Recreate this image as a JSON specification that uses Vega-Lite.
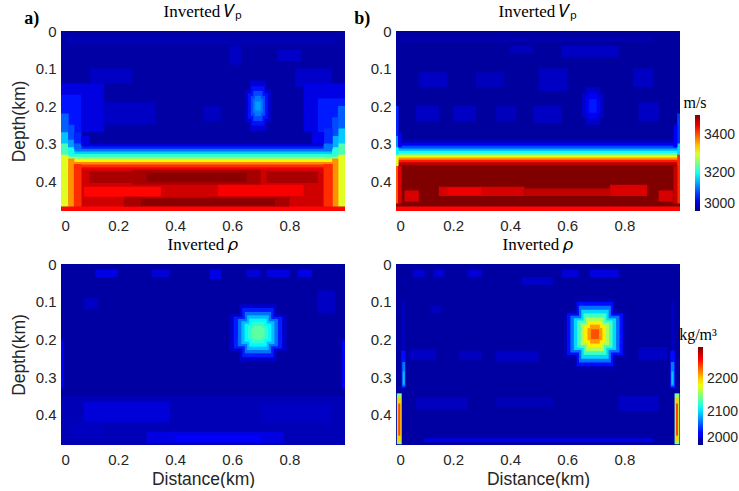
{
  "$schema": "https://vega.github.io/schema/vega-lite/v6.json",
  "background": "white",
  "padding": {"left": 10, "top": 3, "right": 0, "bottom": 0},
  "spacing": 9,
  "config": {
    "view": {"stroke": null},
    "title": {"font": "Liberation Serif", "fontSize": 17, "fontWeight": "normal", "color": "#000000", "offset": 3},
    "axis": {"labelFont": "Liberation Sans", "labelFontSize": 15, "labelColor": "#262626", "titleFont": "Liberation Sans", "titleFontSize": 17.5, "titleFontWeight": "normal", "titleColor": "#262626", "ticks": false, "domain": false, "grid": false},
    "axisX": {"labelPadding": 7, "titlePadding": 3},
    "axisY": {"labelPadding": 5, "titlePadding": 7}
  },
  "resolve": {"scale": {"color": "independent"}, "legend": {"color": "independent"}},
  "datasets": {
    "a": [
      {"x":0,"x2":0.995,"y":0,"y2":0.302,"v":3018},
      {"x":0,"x2":0.995,"y":0.3,"y2":0.309,"v":3040},
      {"x":0,"x2":0.995,"y":0.307,"y2":0.316,"v":3075},
      {"x":0,"x2":0.995,"y":0.314,"y2":0.323,"v":3120},
      {"x":0,"x2":0.995,"y":0.321,"y2":0.33,"v":3165},
      {"x":0,"x2":0.995,"y":0.328,"y2":0.337,"v":3210},
      {"x":0,"x2":0.995,"y":0.335,"y2":0.344,"v":3265},
      {"x":0,"x2":0.995,"y":0.342,"y2":0.351,"v":3320},
      {"x":0,"x2":0.995,"y":0.349,"y2":0.358,"v":3375},
      {"x":0,"x2":0.995,"y":0.356,"y2":0.365,"v":3420},
      {"x":0,"x2":0.995,"y":0.363,"y2":0.372,"v":3450},
      {"x":0,"x2":0.995,"y":0.37,"y2":0.47,"v":3465},
      {"x":0,"x2":0.995,"y":0.468,"y2":0.48,"v":3440},
      {"x":0.02,"x2":0.97,"y":0.015,"y2":0.035,"v":3026},
      {"x":0.59,"x2":0.63,"y":0.04,"y2":0.09,"v":3034},
      {"x":0.76,"x2":0.84,"y":0.05,"y2":0.08,"v":3036},
      {"x":0.1,"x2":0.25,"y":0.1,"y2":0.14,"v":3034},
      {"x":0.82,"x2":0.95,"y":0.1,"y2":0.15,"v":3036},
      {"x":0.15,"x2":0.33,"y":0.19,"y2":0.25,"v":3034},
      {"x":0.5,"x2":0.56,"y":0.2,"y2":0.24,"v":3032},
      {"x":0,"x2":0.15,"y":0.14,"y2":0.27,"v":3048},
      {"x":0.85,"x2":0.995,"y":0.14,"y2":0.27,"v":3050},
      {"x":0,"x2":0.07,"y":0.17,"y2":0.27,"v":3072},
      {"x":0.9,"x2":0.995,"y":0.18,"y2":0.27,"v":3076},
      {"x":0.1,"x2":0.25,"y":0.375,"y2":0.405,"v":3485},
      {"x":0.25,"x2":0.7,"y":0.37,"y2":0.41,"v":3485},
      {"x":0.3,"x2":0.65,"y":0.378,"y2":0.402,"v":3500},
      {"x":0.72,"x2":0.9,"y":0.375,"y2":0.405,"v":3485},
      {"x":0.08,"x2":0.35,"y":0.415,"y2":0.442,"v":3440},
      {"x":0.55,"x2":0.85,"y":0.41,"y2":0.44,"v":3445},
      {"x":0.22,"x2":0.8,"y":0.442,"y2":0.468,"v":3485},
      {"x":0.28,"x2":0.75,"y":0.447,"y2":0.465,"v":3500},
      {"x":0,"x2":0.027,"y":0.22,"y2":0.272,"v":3110},
      {"x":0,"x2":0.027,"y":0.27,"y2":0.302,"v":3160},
      {"x":0,"x2":0.027,"y":0.3,"y2":0.332,"v":3225},
      {"x":0,"x2":0.027,"y":0.33,"y2":0.468,"v":3300},
      {"x":0.025,"x2":0.047,"y":0.25,"y2":0.292,"v":3100},
      {"x":0.025,"x2":0.047,"y":0.29,"y2":0.312,"v":3140},
      {"x":0.025,"x2":0.047,"y":0.31,"y2":0.332,"v":3200},
      {"x":0.025,"x2":0.047,"y":0.34,"y2":0.468,"v":3370},
      {"x":0.045,"x2":0.072,"y":0.27,"y2":0.302,"v":3080},
      {"x":0.045,"x2":0.072,"y":0.3,"y2":0.315,"v":3110},
      {"x":0.045,"x2":0.072,"y":0.355,"y2":0.468,"v":3420},
      {"x":0.07,"x2":0.1,"y":0.28,"y2":0.305,"v":3050},
      {"x":0.97,"x2":0.995,"y":0.2,"y2":0.262,"v":3110},
      {"x":0.97,"x2":0.995,"y":0.26,"y2":0.302,"v":3165},
      {"x":0.97,"x2":0.995,"y":0.3,"y2":0.332,"v":3230},
      {"x":0.97,"x2":0.995,"y":0.33,"y2":0.468,"v":3300},
      {"x":0.95,"x2":0.972,"y":0.23,"y2":0.282,"v":3100},
      {"x":0.95,"x2":0.972,"y":0.28,"y2":0.312,"v":3150},
      {"x":0.95,"x2":0.972,"y":0.31,"y2":0.332,"v":3210},
      {"x":0.95,"x2":0.972,"y":0.34,"y2":0.468,"v":3370},
      {"x":0.92,"x2":0.952,"y":0.26,"y2":0.302,"v":3085},
      {"x":0.92,"x2":0.952,"y":0.3,"y2":0.315,"v":3120},
      {"x":0.92,"x2":0.952,"y":0.355,"y2":0.468,"v":3420},
      {"x":0.88,"x2":0.922,"y":0.27,"y2":0.3,"v":3055},
      {"x":0.645,"x2":0.735,"y":0.156,"y2":0.244,"v":3040},
      {"x":0.661,"x2":0.719,"y":0.132,"y2":0.268,"v":3040},
      {"x":0.655,"x2":0.725,"y":0.166,"y2":0.234,"v":3070},
      {"x":0.667,"x2":0.713,"y":0.147,"y2":0.253,"v":3070},
      {"x":0.665,"x2":0.715,"y":0.174,"y2":0.226,"v":3100},
      {"x":0.674,"x2":0.706,"y":0.16,"y2":0.24,"v":3100},
      {"x":0.673,"x2":0.707,"y":0.182,"y2":0.218,"v":3122},
      {"x":0.679,"x2":0.701,"y":0.173,"y2":0.227,"v":3122},
      {"x":0.68,"x2":0.7,"y":0.188,"y2":0.212,"v":3140}
    ],
    "b": [
      {"x":0,"x2":0.995,"y":0,"y2":0.292,"v":3015},
      {"x":0,"x2":0.995,"y":0.29,"y2":0.3,"v":3030},
      {"x":0,"x2":0.995,"y":0.298,"y2":0.308,"v":3060},
      {"x":0,"x2":0.995,"y":0.306,"y2":0.315,"v":3100},
      {"x":0,"x2":0.995,"y":0.313,"y2":0.321,"v":3150},
      {"x":0,"x2":0.995,"y":0.319,"y2":0.327,"v":3195},
      {"x":0,"x2":0.995,"y":0.325,"y2":0.333,"v":3250},
      {"x":0,"x2":0.995,"y":0.331,"y2":0.339,"v":3310},
      {"x":0,"x2":0.995,"y":0.337,"y2":0.345,"v":3370},
      {"x":0,"x2":0.995,"y":0.343,"y2":0.352,"v":3430},
      {"x":0,"x2":0.995,"y":0.35,"y2":0.359,"v":3475},
      {"x":0,"x2":0.995,"y":0.357,"y2":0.47,"v":3505},
      {"x":0,"x2":0.995,"y":0.468,"y2":0.48,"v":3440},
      {"x":0.02,"x2":0.9,"y":0.015,"y2":0.03,"v":3024},
      {"x":0.4,"x2":0.48,"y":0.04,"y2":0.06,"v":3030},
      {"x":0.58,"x2":0.78,"y":0.04,"y2":0.07,"v":3034},
      {"x":0.08,"x2":0.18,"y":0.11,"y2":0.15,"v":3034},
      {"x":0.28,"x2":0.38,"y":0.11,"y2":0.15,"v":3030},
      {"x":0.5,"x2":0.6,"y":0.1,"y2":0.16,"v":3034},
      {"x":0.83,"x2":0.9,"y":0.1,"y2":0.15,"v":3034},
      {"x":0.07,"x2":0.15,"y":0.2,"y2":0.24,"v":3034},
      {"x":0.2,"x2":0.28,"y":0.2,"y2":0.24,"v":3034},
      {"x":0.35,"x2":0.42,"y":0.2,"y2":0.24,"v":3030},
      {"x":0.48,"x2":0.58,"y":0.2,"y2":0.245,"v":3034},
      {"x":0.85,"x2":0.92,"y":0.19,"y2":0.24,"v":3034},
      {"x":0.652,"x2":0.728,"y":0.168,"y2":0.232,"v":3038},
      {"x":0.665,"x2":0.715,"y":0.15,"y2":0.25,"v":3038},
      {"x":0.665,"x2":0.715,"y":0.179,"y2":0.221,"v":3058},
      {"x":0.674,"x2":0.706,"y":0.167,"y2":0.233,"v":3058},
      {"x":0.677,"x2":0.703,"y":0.182,"y2":0.218,"v":3075},
      {"x":0.15,"x2":0.45,"y":0.415,"y2":0.44,"v":3462},
      {"x":0.18,"x2":0.3,"y":0.418,"y2":0.438,"v":3450},
      {"x":0.45,"x2":0.75,"y":0.42,"y2":0.44,"v":3472},
      {"x":0.75,"x2":0.88,"y":0.41,"y2":0.44,"v":3460},
      {"x":0.03,"x2":0.08,"y":0.425,"y2":0.455,"v":3462},
      {"x":0.92,"x2":0.97,"y":0.425,"y2":0.455,"v":3462},
      {"x":0,"x2":0.009,"y":0.2,"y2":0.282,"v":3080},
      {"x":0,"x2":0.009,"y":0.28,"y2":0.312,"v":3130},
      {"x":0,"x2":0.009,"y":0.31,"y2":0.332,"v":3185},
      {"x":0,"x2":0.009,"y":0.33,"y2":0.362,"v":3300},
      {"x":0,"x2":0.009,"y":0.36,"y2":0.46,"v":3400},
      {"x":0.007,"x2":0.02,"y":0.27,"y2":0.31,"v":3055},
      {"x":0.007,"x2":0.02,"y":0.36,"y2":0.46,"v":3460},
      {"x":0.985,"x2":0.995,"y":0.22,"y2":0.302,"v":3090},
      {"x":0.985,"x2":0.995,"y":0.3,"y2":0.332,"v":3170},
      {"x":0.985,"x2":0.995,"y":0.33,"y2":0.46,"v":3420},
      {"x":0.972,"x2":0.986,"y":0.25,"y2":0.31,"v":3060},
      {"x":0.972,"x2":0.986,"y":0.36,"y2":0.46,"v":3470}
    ],
    "c": [
      {"x":0,"x2":0.995,"y":0,"y2":0.48,"v":2010},
      {"x":0,"x2":0.995,"y":0.35,"y2":0.48,"v":2016},
      {"x":0.08,"x2":0.38,"y":0.365,"y2":0.42,"v":2026},
      {"x":0.7,"x2":0.95,"y":0.37,"y2":0.42,"v":2020},
      {"x":0.03,"x2":0.15,"y":0.42,"y2":0.46,"v":2019},
      {"x":0.3,"x2":0.78,"y":0.445,"y2":0.475,"v":2028},
      {"x":0.4,"x2":0.7,"y":0.455,"y2":0.47,"v":2036},
      {"x":0.12,"x2":0.2,"y":0.015,"y2":0.035,"v":2030},
      {"x":0.32,"x2":0.38,"y":0.015,"y2":0.035,"v":2026},
      {"x":0.52,"x2":0.56,"y":0.015,"y2":0.04,"v":2030},
      {"x":0.65,"x2":0.7,"y":0.015,"y2":0.035,"v":2026},
      {"x":0.72,"x2":0.8,"y":0.015,"y2":0.035,"v":2028},
      {"x":0.83,"x2":0.88,"y":0.015,"y2":0.035,"v":2030},
      {"x":0.08,"x2":0.13,"y":0.09,"y2":0.12,"v":2020},
      {"x":0.9,"x2":0.96,"y":0.07,"y2":0.13,"v":2020},
      {"x":0,"x2":0.008,"y":0.2,"y2":0.33,"v":2035},
      {"x":0.985,"x2":0.995,"y":0.2,"y2":0.33,"v":2035},
      {"x":0.59,"x2":0.79,"y":0.133,"y2":0.231,"v":2022},
      {"x":0.625,"x2":0.755,"y":0.107,"y2":0.257,"v":2022},
      {"x":0.605,"x2":0.775,"y":0.14,"y2":0.224,"v":2045},
      {"x":0.635,"x2":0.745,"y":0.117,"y2":0.247,"v":2045},
      {"x":0.62,"x2":0.76,"y":0.146,"y2":0.218,"v":2070},
      {"x":0.644,"x2":0.736,"y":0.127,"y2":0.237,"v":2070},
      {"x":0.632,"x2":0.748,"y":0.152,"y2":0.212,"v":2092},
      {"x":0.652,"x2":0.728,"y":0.136,"y2":0.228,"v":2092},
      {"x":0.643,"x2":0.737,"y":0.158,"y2":0.206,"v":2110},
      {"x":0.659,"x2":0.721,"y":0.145,"y2":0.219,"v":2110},
      {"x":0.655,"x2":0.725,"y":0.164,"y2":0.2,"v":2125},
      {"x":0.667,"x2":0.713,"y":0.154,"y2":0.21,"v":2125},
      {"x":0.667,"x2":0.713,"y":0.17,"y2":0.194,"v":2138},
      {"x":0.675,"x2":0.705,"y":0.164,"y2":0.2,"v":2138}
    ],
    "d": [
      {"x":0,"x2":0.995,"y":0,"y2":0.48,"v":2010},
      {"x":0.05,"x2":0.14,"y":0.225,"y2":0.255,"v":2020},
      {"x":0.22,"x2":0.3,"y":0.23,"y2":0.255,"v":2018},
      {"x":0.35,"x2":0.5,"y":0.23,"y2":0.26,"v":2020},
      {"x":0.85,"x2":0.95,"y":0.22,"y2":0.255,"v":2020},
      {"x":0.07,"x2":0.25,"y":0.355,"y2":0.385,"v":2018},
      {"x":0.35,"x2":0.55,"y":0.355,"y2":0.38,"v":2016},
      {"x":0.78,"x2":0.92,"y":0.35,"y2":0.39,"v":2020},
      {"x":0.1,"x2":0.9,"y":0.462,"y2":0.472,"v":2030},
      {"x":0.06,"x2":0.1,"y":0.015,"y2":0.035,"v":2025},
      {"x":0.13,"x2":0.17,"y":0.015,"y2":0.035,"v":2025},
      {"x":0.25,"x2":0.3,"y":0.015,"y2":0.035,"v":2025},
      {"x":0.44,"x2":0.55,"y":0.035,"y2":0.055,"v":2022},
      {"x":0.58,"x2":0.64,"y":0.015,"y2":0.035,"v":2025},
      {"x":0.68,"x2":0.78,"y":0.015,"y2":0.035,"v":2028},
      {"x":0.12,"x2":0.16,"y":0.11,"y2":0.13,"v":2018},
      {"x":0.02,"x2":0.03,"y":0.1,"y2":0.23,"v":2020},
      {"x":0.018,"x2":0.034,"y":0.23,"y2":0.33,"v":2040},
      {"x":0.022,"x2":0.032,"y":0.26,"y2":0.325,"v":2072},
      {"x":0.024,"x2":0.03,"y":0.285,"y2":0.32,"v":2095},
      {"x":0.003,"x2":0.02,"y":0.343,"y2":0.478,"v":2150},
      {"x":0.006,"x2":0.017,"y":0.355,"y2":0.47,"v":2200},
      {"x":0.008,"x2":0.015,"y":0.37,"y2":0.455,"v":2240},
      {"x":0.965,"x2":0.975,"y":0.1,"y2":0.23,"v":2020},
      {"x":0.961,"x2":0.977,"y":0.23,"y2":0.33,"v":2040},
      {"x":0.963,"x2":0.975,"y":0.26,"y2":0.325,"v":2072},
      {"x":0.965,"x2":0.972,"y":0.285,"y2":0.32,"v":2095},
      {"x":0.976,"x2":0.993,"y":0.343,"y2":0.478,"v":2150},
      {"x":0.979,"x2":0.99,"y":0.355,"y2":0.47,"v":2200},
      {"x":0.981,"x2":0.988,"y":0.37,"y2":0.455,"v":2240},
      {"x":0.587,"x2":0.807,"y":0.124,"y2":0.248,"v":2015},
      {"x":0.626,"x2":0.769,"y":0.091,"y2":0.281,"v":2015},
      {"x":0.599,"x2":0.795,"y":0.131,"y2":0.241,"v":2040},
      {"x":0.633,"x2":0.761,"y":0.101,"y2":0.271,"v":2040},
      {"x":0.611,"x2":0.783,"y":0.137,"y2":0.235,"v":2070},
      {"x":0.641,"x2":0.753,"y":0.111,"y2":0.261,"v":2070},
      {"x":0.623,"x2":0.771,"y":0.144,"y2":0.228,"v":2100},
      {"x":0.649,"x2":0.745,"y":0.121,"y2":0.251,"v":2100},
      {"x":0.635,"x2":0.759,"y":0.15,"y2":0.222,"v":2130},
      {"x":0.657,"x2":0.737,"y":0.131,"y2":0.241,"v":2130},
      {"x":0.647,"x2":0.747,"y":0.157,"y2":0.215,"v":2160},
      {"x":0.665,"x2":0.729,"y":0.141,"y2":0.231,"v":2160},
      {"x":0.659,"x2":0.735,"y":0.163,"y2":0.209,"v":2190},
      {"x":0.672,"x2":0.722,"y":0.151,"y2":0.221,"v":2190},
      {"x":0.671,"x2":0.723,"y":0.17,"y2":0.202,"v":2215},
      {"x":0.68,"x2":0.714,"y":0.161,"y2":0.211,"v":2215},
      {"x":0.683,"x2":0.711,"y":0.173,"y2":0.199,"v":2237}
    ]
  },
  "hconcat": [
    {
      "title": {"text": "a)", "anchor": "start", "font": "Liberation Serif", "fontWeight": "bold", "fontSize": 18, "offset": 0, "dx": 14, "dy": 25},
      "spacing": 3,
      "resolve": {"scale": {"color": "independent"}, "legend": {"color": "independent"}},
      "vconcat": [
        {
          "width": 284, "height": 180,
          "title": "Inverted 𝑉ₚ",
          "data": {"name": "a"},
          "mark": {"type": "rect"},
          "encoding": {
            "x": {"field": "x", "type": "quantitative", "scale": {"domain": [0, 0.995], "nice": false, "zero": false}, "axis": {"values": [0, 0.2, 0.4, 0.6, 0.8], "format": "~g", "title": null}},
            "x2": {"field": "x2"},
            "y": {"field": "y", "type": "quantitative", "scale": {"domain": [0, 0.48], "nice": false, "zero": false, "reverse": true}, "axis": {"values": [0, 0.1, 0.2, 0.3, 0.4], "format": "~g", "title": "Depth(km)"}},
            "y2": {"field": "y2"},
            "color": {"field": "v", "type": "quantitative", "scale": {"domain": [3000, 3505], "range": ["#000080", "#0000ff", "#0080ff", "#00ffff", "#80ff80", "#ffff00", "#ff8000", "#ff0000", "#800000"], "interpolate": "rgb", "clamp": true}, "legend": null}
          }
        },
        {
          "width": 284, "height": 181,
          "title": "Inverted 𝜌",
          "data": {"name": "c"},
          "mark": {"type": "rect"},
          "encoding": {
            "x": {"field": "x", "type": "quantitative", "scale": {"domain": [0, 0.995], "nice": false, "zero": false}, "axis": {"values": [0, 0.2, 0.4, 0.6, 0.8], "format": "~g", "title": "Distance(km)"}},
            "x2": {"field": "x2"},
            "y": {"field": "y", "type": "quantitative", "scale": {"domain": [0, 0.48], "nice": false, "zero": false, "reverse": true}, "axis": {"values": [0, 0.1, 0.2, 0.3, 0.4], "format": "~g", "title": "Depth(km)"}},
            "y2": {"field": "y2"},
            "color": {"field": "v", "type": "quantitative", "scale": {"domain": [2000, 2297], "range": ["#000080", "#0000ff", "#0080ff", "#00ffff", "#80ff80", "#ffff00", "#ff8000", "#ff0000", "#800000"], "interpolate": "rgb", "clamp": true}, "legend": null}
          }
        }
      ]
    },
    {
      "title": {"text": "b)", "anchor": "start", "font": "Liberation Serif", "fontWeight": "bold", "fontSize": 18, "offset": 0, "dx": -16, "dy": 25},
      "spacing": 3,
      "resolve": {"scale": {"color": "independent"}, "legend": {"color": "independent"}},
      "vconcat": [
        {
          "width": 284, "height": 180,
          "title": "Inverted 𝑉ₚ",
          "data": {"name": "b"},
          "mark": {"type": "rect"},
          "encoding": {
            "x": {"field": "x", "type": "quantitative", "scale": {"domain": [0, 0.995], "nice": false, "zero": false}, "axis": {"values": [0, 0.2, 0.4, 0.6, 0.8], "format": "~g", "title": null}},
            "x2": {"field": "x2"},
            "y": {"field": "y", "type": "quantitative", "scale": {"domain": [0, 0.48], "nice": false, "zero": false, "reverse": true}, "axis": {"values": [0, 0.1, 0.2, 0.3, 0.4], "format": "~g", "title": null}},
            "y2": {"field": "y2"},
            "color": {"field": "v", "type": "quantitative", "scale": {"domain": [3000, 3505], "range": ["#000080", "#0000ff", "#0080ff", "#00ffff", "#80ff80", "#ffff00", "#ff8000", "#ff0000", "#800000"], "interpolate": "rgb", "clamp": true},
              "legend": {"type": "gradient", "orient": "none", "legendX": 287, "legendY": 64, "direction": "vertical", "gradientLength": 96, "gradientThickness": 5, "gradientStrokeWidth": 0, "values": [3000, 3200, 3400], "format": "d", "title": "m/s", "titleFont": "Liberation Serif", "titleFontSize": 16, "titleFontWeight": "normal", "titleColor": "#000000", "titleAnchor": "start", "titleAlign": "center", "titlePadding": 4, "labelFont": "Liberation Sans", "labelFontSize": 14, "labelColor": "#262626", "labelOffset": 4}}
          }
        },
        {
          "width": 284, "height": 181,
          "title": "Inverted 𝜌",
          "data": {"name": "d"},
          "mark": {"type": "rect"},
          "encoding": {
            "x": {"field": "x", "type": "quantitative", "scale": {"domain": [0, 0.995], "nice": false, "zero": false}, "axis": {"values": [0, 0.2, 0.4, 0.6, 0.8], "format": "~g", "title": "Distance(km)"}},
            "x2": {"field": "x2"},
            "y": {"field": "y", "type": "quantitative", "scale": {"domain": [0, 0.48], "nice": false, "zero": false, "reverse": true}, "axis": {"values": [0, 0.1, 0.2, 0.3, 0.4], "format": "~g", "title": null}},
            "y2": {"field": "y2"},
            "color": {"field": "v", "type": "quantitative", "scale": {"domain": [2000, 2297], "range": ["#000080", "#0000ff", "#0080ff", "#00ffff", "#80ff80", "#ffff00", "#ff8000", "#ff0000", "#800000"], "interpolate": "rgb", "clamp": true},
              "legend": {"type": "gradient", "orient": "none", "legendX": 283, "legendY": 63, "direction": "vertical", "gradientLength": 98, "gradientThickness": 5, "gradientStrokeWidth": 0, "values": [2000, 2100, 2200], "format": "d", "title": "kg/m³", "titleFont": "Liberation Serif", "titleFontSize": 16, "titleFontWeight": "normal", "titleColor": "#000000", "titleAnchor": "start", "titleAlign": "center", "titlePadding": 4, "labelFont": "Liberation Sans", "labelFontSize": 14, "labelColor": "#262626", "labelOffset": 4}}
          }
        }
      ]
    }
  ]
}
